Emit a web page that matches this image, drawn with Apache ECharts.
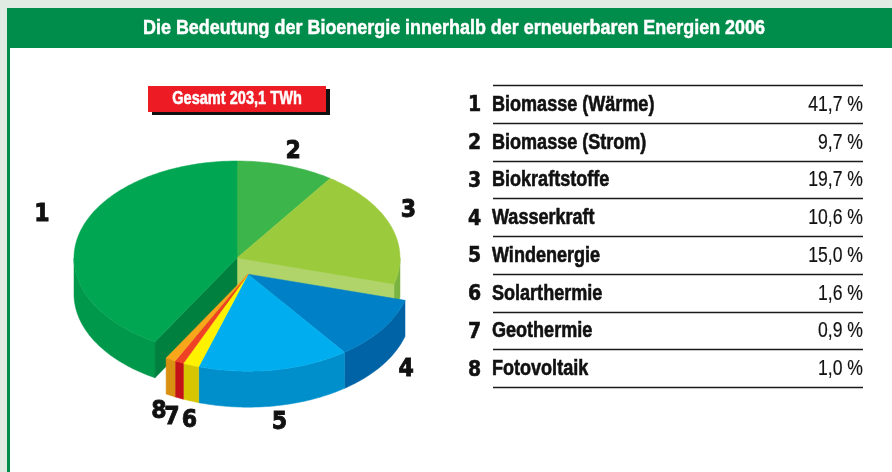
<!DOCTYPE html>
<html>
<head>
<meta charset="utf-8">
<script src="https://cdn.jsdelivr.net/npm/echarts@6/dist/echarts.min.js"></script>
<style>
  html, body { margin: 0; padding: 0; background: #dfebe3; }
  #chart { width: 892px; height: 472px; }
</style>
</head>
<body>
<div id="chart"></div>
<script>
// --- Daten ---
const chartTitle = 'Die Bedeutung der Bioenergie innerhalb der erneuerbaren Energien 2006';
const totalLabel = 'Gesamt 203,1 TWh';
const categories = ['Biomasse (Wärme)', 'Biomasse (Strom)', 'Biokraftstoffe', 'Wasserkraft',
                    'Windenergie', 'Solarthermie', 'Geothermie', 'Fotovoltaik'];
const shares = [41.7, 9.7, 19.7, 10.6, 15.0, 1.6, 0.9, 1.0];   // Prozent
// Reihenfolge der Segmente im Uhrzeigersinn ab 12 Uhr (Index in categories)
const pieOrder = [1, 2, 3, 4, 5, 6, 7, 0];
// herausgezogene Segmente (Wasserkraft .. Fotovoltaik)
const exploded = [false, false, false, true, true, true, true, true];

// --- Farben ---
const topColors  = ['#00a651', '#3cb54a', '#9bca3c', '#0080c6', '#00aeef', '#fff200', '#ef4123', '#f9a61a'];
const sideColors = ['#00984a', '#2f9d3e', '#7bb341', '#0063a6', '#008fcb', '#d6c600', '#c41219', '#d99112'];
const cutColors  = ['#00803e', '#2a8f39', '#b0d46a', '#005f9e', '#0088c2', '#d0c000', '#b01018', '#c98510'];

// --- Schrift: Liberation Sans, horizontal gestaucht (wie Condensed) ---
const SANS = '"Liberation Sans", Arial, sans-serif';
const HEAVY = '"DejaVu Sans", sans-serif';
const NARROW = 0.82;

// --- Geometrie der 3D-Torte ---
const CX = 237, CY = 258, RX = 163, RY = 97, DEPTH = 36, EXPLODE = 0.18;
const labelNudge = { 0: [-14, -14], 2: [-5, -10], 3: [4, -4], 4: [1, 3], 5: [7, 6], 6: [3, 6], 7: [0, 3] };

const total = shares.reduce((a, b) => a + b, 0);
const startAngle = [];
let acc = 0;
pieOrder.forEach(ci => { startAngle.push(acc / total * 360); acc += shares[ci]; });

// Mitte des herausgezogenen Blocks
let exFirst = -1, exLast = -1;
pieOrder.forEach((ci, k) => { if (exploded[ci]) { if (exFirst < 0) exFirst = k; exLast = k; } });
const exMid = (startAngle[exFirst] + startAngle[exLast] + shares[pieOrder[exLast]] / total * 360) / 2;
const rad = d => d * Math.PI / 180;
const exOff = [EXPLODE * RX * Math.sin(rad(exMid)), -EXPLODE * RY * Math.cos(rad(exMid))];

function pt(theta, off, down) {
  return [CX + off[0] + RX * Math.sin(rad(theta)),
          CY + off[1] - RY * Math.cos(rad(theta)) + (down ? DEPTH : 0)];
}
function arc(a, b, off, down) {
  const n = Math.max(2, Math.ceil(Math.abs(b - a)));
  const out = [];
  for (let i = 0; i <= n; i++) out.push(pt(a + (b - a) * i / n, off, down));
  return out;
}

function renderSlice(params, api) {
  const k = params.dataIndex;
  const ci = pieOrder[k];
  const a0 = startAngle[k];
  const a1 = a0 + api.value(0) / total * 360;
  const off = exploded[ci] ? exOff : [0, 0];
  const base = exploded[ci] ? 10 : 0;
  const c = [CX + off[0], CY + off[1]];
  const children = [];

  // Außenwand (nur vordere Hälfte sichtbar)
  const lo = Math.max(a0, 90), hi = Math.min(a1, 270);
  if (hi > lo) {
    const pts = arc(lo, hi, off, false).concat(arc(hi, lo, off, true));
    children.push({ type: 'polygon', z2: base + 1, shape: { points: pts },
      style: { fill: sideColors[ci], stroke: sideColors[ci], lineWidth: 0.5 } });
  }
  // Schnittflächen an Übergängen zu herausgezogenen Segmenten
  const n = pieOrder.length;
  const prev = pieOrder[(k - 1 + n) % n], next = pieOrder[(k + 1) % n];
  const face = th => [c, pt(th, off, false), pt(th, off, true), [c[0], c[1] + DEPTH]];
  if (exploded[prev] !== exploded[ci] && Math.sin(rad(a0)) < 0) {
    children.push({ type: 'polygon', z2: base + 2, shape: { points: face(a0) },
      style: { fill: cutColors[ci], stroke: cutColors[ci], lineWidth: 0.5 } });
  }
  if (exploded[next] !== exploded[ci] && Math.sin(rad(a1)) > 0) {
    children.push({ type: 'polygon', z2: base + 2, shape: { points: face(a1) },
      style: { fill: cutColors[ci], stroke: cutColors[ci], lineWidth: 0.5 } });
  }
  // Deckfläche
  children.push({ type: 'polygon', z2: base + 3, shape: { points: [c].concat(arc(a0, a1, off, false)) },
    style: { fill: topColors[ci], stroke: topColors[ci], lineWidth: 0.5 } });

  // Nummer
  const mid = (a0 + a1) / 2;
  const f = 1.15;
  let lx = c[0] + f * RX * Math.sin(rad(mid));
  let ly = c[1] - f * RY * Math.cos(rad(mid)) + (Math.cos(rad(mid)) < 0 ? DEPTH : 0);
  if (labelNudge[ci]) { lx += labelNudge[ci][0]; ly += labelNudge[ci][1]; }
  children.push({ type: 'text', z2: 30, x: lx, y: ly, scaleX: 0.92,
    style: { text: String(ci + 1), x: 0, y: 0, fill: '#111', stroke: '#111', lineWidth: 0.9,
      font: 'bold 24px ' + HEAVY, align: 'center', verticalAlign: 'middle',
      textAlign: 'center', textVerticalAlign: 'middle' } });

  return { type: 'group', children };
}

// Text in gestauchter Schrift (Kontur macht ihn etwas fetter)
function narrowText(x, y, text, font, align, fill, scale, weight) {
  return { type: 'text', x, y, scaleX: scale || NARROW,
    style: { text, x: 0, y: 0, fill, font, textAlign: align, textVerticalAlign: 'middle',
      align, verticalAlign: 'middle', stroke: weight ? fill : null, lineWidth: weight || 0 } };
}

// Titel auf Breite der Vorlage einpassen
const measureCtx = document.createElement('canvas').getContext('2d');
measureCtx.font = 'bold 21px ' + SANS;
const titleScale = 622 / measureCtx.measureText(chartTitle).width;

// --- Tabelle ---
const TX_NO = 468, TX_NAME = 492, TX_VAL = 863, TLINE0 = 493, TY0 = 85, ROW_H = 37.75;
const fmt = v => v.toFixed(1).replace('.', ',') + ' %';
const tableGraphics = [];
for (let i = 0; i <= categories.length; i++) {
  const y = Math.round(TY0 + i * ROW_H) + 0.5;
  tableGraphics.push({ type: 'line', shape: { x1: TLINE0, y1: y, x2: TX_VAL, y2: y },
    style: { stroke: '#1a1a1a', lineWidth: 1.3 } });
}
categories.forEach((name, i) => {
  const y = TY0 + i * ROW_H + ROW_H / 2 + 1;
  tableGraphics.push(narrowText(TX_NO, y + 1, String(i + 1), 'bold 21px ' + HEAVY, 'left', '#111', 0.9, 0.6));
  tableGraphics.push(narrowText(TX_NAME, y, name, 'bold 22px ' + SANS, 'left', '#111', NARROW, 0.6));
  tableGraphics.push(narrowText(TX_VAL, y, fmt(shares[i]), '22px ' + SANS, 'right', '#111', 0.8, 0.2));
});

const chart = echarts.init(document.getElementById('chart'), null, { renderer: 'canvas' });
chart.setOption({
  animation: false,
  backgroundColor: '#dfebe3',
  graphic: [
    { type: 'rect', z: -10, shape: { x: 7, y: 8, width: 885, height: 464 }, style: { fill: '#008c4b' } },
    { type: 'rect', z: -9, shape: { x: 10, y: 48, width: 882, height: 424 }, style: { fill: '#ffffff' } },
    narrowText(454, 28.5, chartTitle, 'bold 21px ' + SANS, 'center', '#ffffff', titleScale, 0.5),
    // Gesamt-Box mit Schatten
    { type: 'rect', shape: { x: 152, y: 89, width: 178, height: 26 }, style: { fill: '#111' } },
    { type: 'rect', shape: { x: 148, y: 86, width: 178, height: 26 }, style: { fill: '#ed1c24' } },
    narrowText(237, 99.5, totalLabel, 'bold 18px ' + SANS, 'center', '#ffffff', 0.81, 0.5)
  ].concat(tableGraphics),
  series: [{
    type: 'custom',
    coordinateSystem: 'none',
    z: 5,
    renderItem: renderSlice,
    data: pieOrder.map(ci => ({ name: categories[ci], value: shares[ci] }))
  }]
});
</script>
</body>
</html>
